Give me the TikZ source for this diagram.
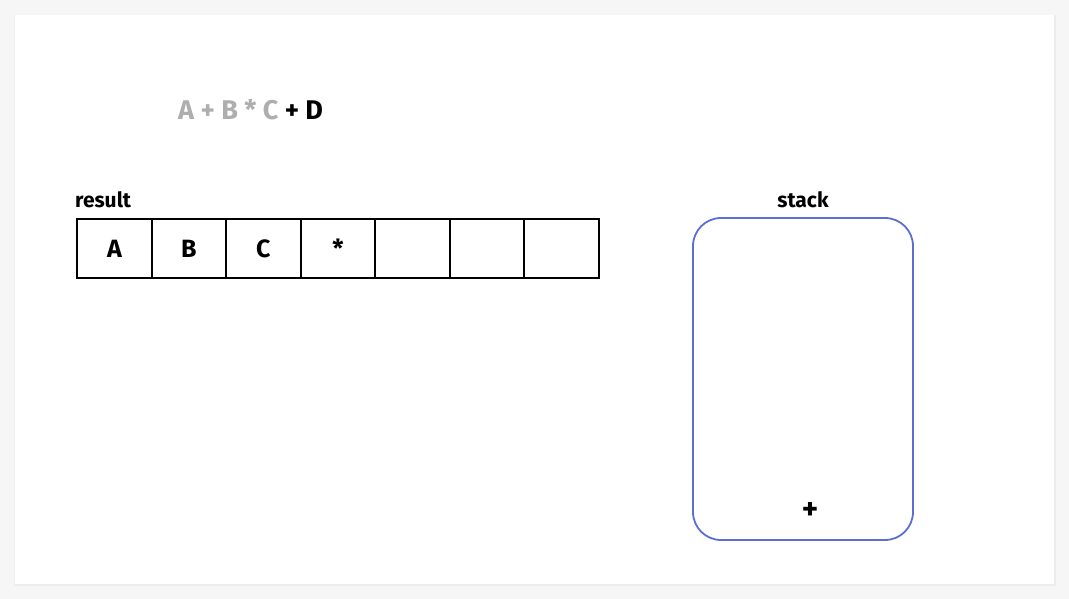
\documentclass[tikz,border=0pt]{standalone}
\usepackage{fontspec}
\setmainfont{Fira Sans}
\begin{document}
\begin{tikzpicture}[x=1pt,y=-1pt,
  cell/.style={draw=black,line width=1.8pt,minimum height=59pt,anchor=north west,inner sep=0pt,font=\bfseries\fontsize{25}{30}\selectfont},
  lbl/.style={font=\bfseries\fontsize{21}{25}\selectfont,inner sep=0pt},
  stackbox/.style={draw=stackblue,line width=1.8pt,rounded corners=28pt}]
\definecolor{stackblue}{HTML}{5C6FD1}
\definecolor{bgc}{HTML}{F6F6F6}
\definecolor{greytxt}{HTML}{AEAEAE}
\fill[bgc] (0,0) rectangle (1069,599);
\useasboundingbox (0,0) rectangle (1069,599);
\fill[black!7] (14,15) rectangle (1056,586);
\fill[white] (15,15) rectangle (1054,584);
\node[lbl,anchor=west,font=\bfseries\fontsize{27}{32}\selectfont] (expr) at (178,110) {\textcolor{greytxt}{A + B * C} + D};
\node[lbl,anchor=south west] (res) at (75,208) {result};
\foreach \i/\a/\w/\t in {0/76/75/A,1/151/74/B,2/225/75/C,3/300/74/*,4/374/75/,5/449/74/,6/523/75/} {
  \node[cell,minimum width=\w pt] (c\i) at (\a,218) {\t};
}
\draw[stackbox] (693,218) rectangle (913,540);
\coordinate (stk) at (803,379);
\node[lbl,anchor=south] (stacklbl) at (803,208) {stack};
\node[lbl,font=\bfseries\fontsize{31}{36}\selectfont] (plus) at (810,511) {+};
\end{tikzpicture}
\end{document}
